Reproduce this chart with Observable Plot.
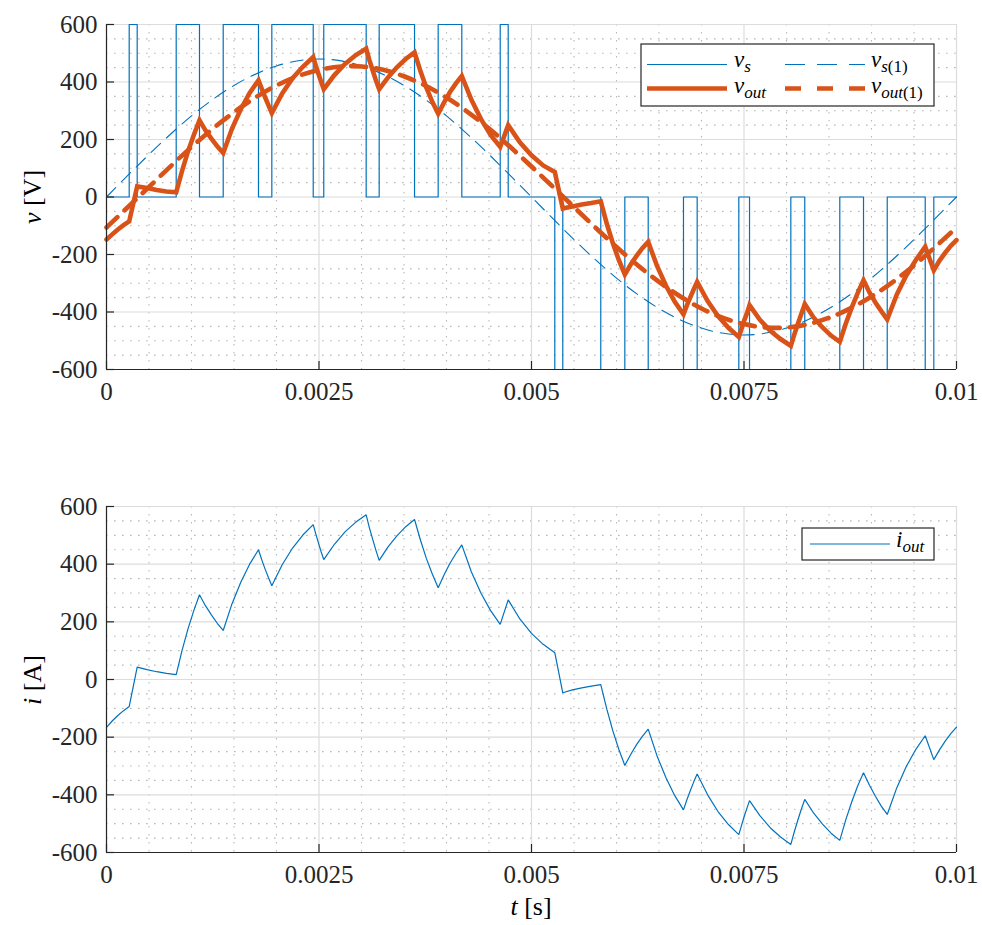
<!DOCTYPE html>
<html>
<head>
<meta charset="utf-8">
<script src="https://cdn.jsdelivr.net/npm/d3@7"></script>
<script src="https://cdn.jsdelivr.net/npm/@observablehq/plot@0.6"></script>
<style>
  html, body { margin: 0; padding: 0; background: #fff; }
  #chart { width: 982px; height: 925px; }
  #chart svg { display: block; }
  #chart svg text { font-family: 'Liberation Serif', 'DejaVu Serif', serif; }
</style>
</head>
<body>
<div id="chart"></div>
<script>
// ---------- data ----------
// switching instants of v_s (s) and the level held after each instant (V)
const vsTimes = [0, 0.000267, 0.000361, 0.000820, 0.001094, 0.001373, 0.001788, 0.001945, 0.002432,
  0.002556, 0.003055, 0.003208, 0.003624, 0.003902, 0.004180, 0.004632, 0.004726,
  0.005274, 0.005368, 0.005815, 0.006098, 0.006373, 0.006788, 0.006949, 0.007439,
  0.007565, 0.008051, 0.008215, 0.008627, 0.008906, 0.009185, 0.009632, 0.009733, 0.01];
const vsLevels = [0, 600, 0, 600, 0, 600, 0, 600, 0,
  600, 0, 600, 0, 600, 0, 600, 0,
  -600, 0, -600, 0, -600, 0, -600, 0,
  -600, 0, -600, 0, -600, 0, -600, 0, 0];

// fundamentals, read every 0.5 ms
const fundTimes = [0, 0.0005, 0.001, 0.0015, 0.002, 0.0025, 0.003, 0.0035, 0.004, 0.0045, 0.005,
  0.0055, 0.006, 0.0065, 0.007, 0.0075, 0.008, 0.0085, 0.009, 0.0095, 0.01];
const vs1Values = [0, 148, 282, 388, 456, 480, 456, 388, 282, 148, 0,
  -148, -282, -388, -456, -480, -456, -388, -282, -148, 0];
const vout1Values = [-106, 35, 174, 295, 388, 442, 454, 420, 346, 238, 106,
  -35, -174, -295, -388, -442, -454, -420, -346, -238, -106];

// output waveforms (switching vertices plus points along each curved stretch)
const outTimes = [0,
  0.0000668, 0.0001335, 0.0002003, 0.000267,
  0.000361,
  0.000476, 0.000591, 0.000705, 0.000820,
  0.000889, 0.000957, 0.001026, 0.001094,
  0.001164, 0.001234, 0.001303, 0.001373,
  0.001477, 0.001581, 0.001684, 0.001788,
  0.001827, 0.001867, 0.001906, 0.001945,
  0.002067, 0.002189, 0.002310, 0.002432,
  0.002463, 0.002494, 0.002525, 0.002556,
  0.002681, 0.002806, 0.002930, 0.003055,
  0.003093, 0.003132, 0.003170, 0.003208,
  0.003312, 0.003416, 0.003520, 0.003624,
  0.003694, 0.003763, 0.003833, 0.003902,
  0.003972, 0.004041, 0.004111, 0.004180,
  0.004293, 0.004406, 0.004519, 0.004632,
  0.004726,
  0.004863, 0.005000, 0.005137, 0.005274,
  0.005368,
  0.005480, 0.005592, 0.005703, 0.005815,
  0.005886, 0.005957, 0.006027, 0.006098,
  0.006167, 0.006236, 0.006304, 0.006373,
  0.006477, 0.006581, 0.006684, 0.006788,
  0.006828, 0.006869, 0.006909, 0.006949,
  0.007072, 0.007194, 0.007317, 0.007439,
  0.007471, 0.007502, 0.007534, 0.007565,
  0.007687, 0.007808, 0.007930, 0.008051,
  0.008092, 0.008133, 0.008174, 0.008215,
  0.008318, 0.008421, 0.008524, 0.008627,
  0.008697, 0.008767, 0.008836, 0.008906,
  0.008976, 0.009046, 0.009115, 0.009185,
  0.009297, 0.009409, 0.009520, 0.009632,
  0.009733,
  0.009800, 0.009867, 0.009933, 0.01];
const ioutValues = [-166,
  -144, -125, -108, -94,
  43,
  34, 27, 21, 17,
  101, 174, 238, 294,
  256, 224, 195, 170,
  263, 338, 400, 450,
  415, 382, 353, 325,
  398, 456, 501, 537,
  504, 473, 443, 416,
  469, 512, 545, 571,
  526, 486, 448, 413,
  460, 498, 530, 555,
  483, 420, 366, 318,
  363, 403, 437, 467,
  373, 299, 239, 191,
  276,
  210, 160, 122, 93,
  -46,
  -36, -29, -23, -18,
  -103, -178, -242, -298,
  -260, -226, -197, -172,
  -265, -340, -402, -452,
  -417, -385, -355, -328,
  -400, -458, -503, -538,
  -506, -475, -447, -420,
  -472, -514, -546, -572,
  -528, -488, -450, -416,
  -463, -501, -533, -558,
  -487, -425, -370, -323,
  -367, -405, -439, -468,
  -376, -302, -243, -195,
  -278,
  -244, -214, -188, -165];
const voutValues = [-148,
  -130, -113, -98, -85,
  37,
  31, 24, 19, 16,
  91, 157, 215, 267,
  232, 203, 176, 153,
  238, 306, 362, 406,
  376, 346, 319, 292,
  360, 413, 453, 487,
  456, 428, 401, 375,
  424, 463, 493, 516,
  476, 440, 405, 375,
  416, 451, 480, 503,
  437, 380, 331, 290,
  329, 365, 395, 421,
  338, 271, 216, 174,
  250,
  190, 145, 110, 87,
  -40,
  -33, -26, -21, -15,
  -93, -161, -219, -270,
  -235, -205, -178, -156,
  -240, -308, -364, -408,
  -377, -348, -321, -295,
  -362, -414, -455, -487,
  -458, -430, -405, -376,
  -427, -465, -494, -518,
  -478, -442, -407, -372,
  -419, -453, -482, -504,
  -441, -385, -335, -289,
  -332, -367, -397, -426,
  -340, -273, -220, -173,
  -255,
  -221, -194, -170, -150];

// axes
const xTicks = [0, 0.0025, 0.005, 0.0075, 0.01];
const xMinor = [0.0005, 0.001, 0.0015, 0.002, 0.003, 0.0035, 0.004, 0.0045,
  0.0055, 0.006, 0.0065, 0.007, 0.008, 0.0085, 0.009, 0.0095];
const yTicks = [-600, -400, -200, 0, 200, 400, 600];
const yMinor = [-550, -500, -450, -350, -300, -250, -150, -100, -50,
  50, 100, 150, 250, 300, 350, 450, 500, 550];

// ---------- style ----------
const BLUE = "#0072BD", ORANGE = "#D95319", AX = "#262626";
const FONT = "'Liberation Serif', 'DejaVu Serif', serif";

const vsData = vsTimes.map((t, i) => ({t, v: vsLevels[i]}));
const vs1Data = fundTimes.map((t, i) => ({t, v: vs1Values[i]}));
const vout1Data = fundTimes.map((t, i) => ({t, v: vout1Values[i]}));
const voutData = outTimes.map((t, i) => ({t, v: voutValues[i]}));
const ioutData = outTimes.map((t, i) => ({t, v: ioutValues[i]}));

function panel({height, marginTop, marginBottom, series}) {
  const plotH = height - marginTop - marginBottom;
  const tickX = 0.01 * 8 / (982 - 106 - 26);
  const tickY = 1200 * 8 / plotH;
  return Plot.plot({
    width: 982, height, marginLeft: 106, marginRight: 26, marginTop, marginBottom,
    x: {domain: [0, 0.01]},
    y: {domain: [-600, 600]},
    style: {fontFamily: FONT, fontSize: "25px", color: AX, background: "white", overflow: "visible"},
    marks: [
      Plot.ruleX(xMinor, {stroke: "#b8b8b8", strokeWidth: 1.1, strokeDasharray: "1.6,6.4"}),
      Plot.ruleY(yMinor, {stroke: "#b8b8b8", strokeWidth: 1.1, strokeDasharray: "1.6,6.4"}),
      Plot.ruleX(xTicks, {stroke: "#dcdcdc", strokeWidth: 1.2}),
      Plot.ruleY(yTicks, {stroke: "#dcdcdc", strokeWidth: 1.2}),
      ...series,
      Plot.ruleX([0], {stroke: AX, strokeWidth: 1.2}),
      Plot.ruleY([-600], {stroke: AX, strokeWidth: 1.2}),
      Plot.ruleY(yTicks, {y: d => d, x1: () => 0, x2: () => tickX, stroke: AX, strokeWidth: 1.2}),
      Plot.ruleX(xTicks, {x: d => d, y1: () => -600, y2: () => -600 + tickY, stroke: AX, strokeWidth: 1.2}),
      Plot.axisY(yTicks, {tickSize: 0, tickPadding: 9, tickFormat: d => String(d), label: null,
        fill: AX, fontFamily: FONT, fontSize: 25}),
      Plot.axisX(xTicks, {tickSize: 0, tickPadding: 13, tickFormat: d => String(d), label: null,
        fill: AX, fontFamily: FONT, fontSize: 25})
    ]
  });
}

const topPlot = panel({
  height: 440, marginTop: 24, marginBottom: 71,
  series: [
    Plot.line(vsData, {x: "t", y: "v", curve: "step-after", stroke: BLUE, strokeWidth: 1.2}),
    Plot.line(vs1Data, {x: "t", y: "v", curve: "natural", stroke: BLUE, strokeWidth: 1.1, strokeDasharray: "13,8"}),
    Plot.line(voutData, {x: "t", y: "v", stroke: ORANGE, strokeWidth: 4.6, strokeLinejoin: "miter", strokeMiterlimit: 6}),
    Plot.line(vout1Data, {x: "t", y: "v", curve: "natural", stroke: ORANGE, strokeWidth: 4.6, strokeDasharray: "15,10"})
  ]
});
const bottomPlot = panel({
  height: 485, marginTop: 66, marginBottom: 73,
  series: [
    Plot.line(ioutData, {x: "t", y: "v", stroke: BLUE, strokeWidth: 1.2, strokeLinejoin: "miter"})
  ]
});

const root = document.getElementById("chart");
root.appendChild(topPlot);
root.appendChild(bottomPlot);

// ---------- text helpers ----------
function mathText(sel, x, y, parts, size = 25, anchor = "start") {
  const t = sel.append("text").attr("x", x).attr("y", y)
    .attr("font-family", FONT).attr("font-size", size).attr("fill", "#000")
    .attr("text-anchor", anchor).attr("dominant-baseline", "middle");
  let inSub = false;
  const subSize = Math.round(size * 0.72), shift = Math.round(size * 0.28);
  for (const p of parts) {
    const ts = t.append("tspan").text(p.t);
    if (p.i) ts.attr("font-style", "italic");
    if (p.sub) {
      ts.attr("font-size", subSize);
      if (!inSub) { ts.attr("dy", shift); inSub = true; }
    } else if (inSub) { ts.attr("dy", -shift); inSub = false; }
  }
  return t;
}

// top legend
const sTop = d3.select(topPlot);
const lg = sTop.append("g");
lg.append("rect").attr("x", 641).attr("y", 44).attr("width", 293).attr("height", 62)
  .attr("fill", "white").attr("stroke", AX).attr("stroke-width", 1.2);
lg.append("line").attr("x1", 647).attr("x2", 727).attr("y1", 64.5).attr("y2", 64.5)
  .attr("stroke", BLUE).attr("stroke-width", 1.2);
lg.append("line").attr("x1", 785).attr("x2", 865).attr("y1", 64.5).attr("y2", 64.5)
  .attr("stroke", BLUE).attr("stroke-width", 1.1).attr("stroke-dasharray", "20,12");
lg.append("line").attr("x1", 647).attr("x2", 727).attr("y1", 88.5).attr("y2", 88.5)
  .attr("stroke", ORANGE).attr("stroke-width", 4.6);
lg.append("line").attr("x1", 785).attr("x2", 865).attr("y1", 88.5).attr("y2", 88.5)
  .attr("stroke", ORANGE).attr("stroke-width", 4.6).attr("stroke-dasharray", "16,16");
mathText(lg, 734, 61.5, [{t: "v", i: true}, {t: "s", i: true, sub: true}], 23);
mathText(lg, 871, 61.5, [{t: "v", i: true}, {t: "s", i: true, sub: true}, {t: "(1)", sub: true}], 23);
mathText(lg, 734, 88, [{t: "v", i: true}, {t: "out", i: true, sub: true}], 23);
mathText(lg, 871, 88, [{t: "v", i: true}, {t: "out", i: true, sub: true}, {t: "(1)", sub: true}], 23);

// top y label
const ylab1 = sTop.append("g").attr("transform", "translate(35,197) rotate(-90)");
mathText(ylab1, 0, 0, [{t: "v", i: true}, {t: " [V]"}], 26, "middle");

// bottom legend
const sBot = d3.select(bottomPlot);
const lg2 = sBot.append("g");
lg2.append("rect").attr("x", 802).attr("y", 88).attr("width", 132).attr("height", 32)
  .attr("fill", "white").attr("stroke", AX).attr("stroke-width", 1.2);
lg2.append("line").attr("x1", 810).attr("x2", 890).attr("y1", 104).attr("y2", 104)
  .attr("stroke", BLUE).attr("stroke-width", 1.2);
mathText(lg2, 896, 102, [{t: "i", i: true}, {t: "out", i: true, sub: true}], 23);

const ylab2 = sBot.append("g").attr("transform", "translate(35,240) rotate(-90)");
mathText(ylab2, 0, 0, [{t: "i", i: true}, {t: " [A]"}], 26, "middle");
mathText(sBot, 531, 469, [{t: "t", i: true}, {t: " [s]"}], 26, "middle");
</script>
</body>
</html>
